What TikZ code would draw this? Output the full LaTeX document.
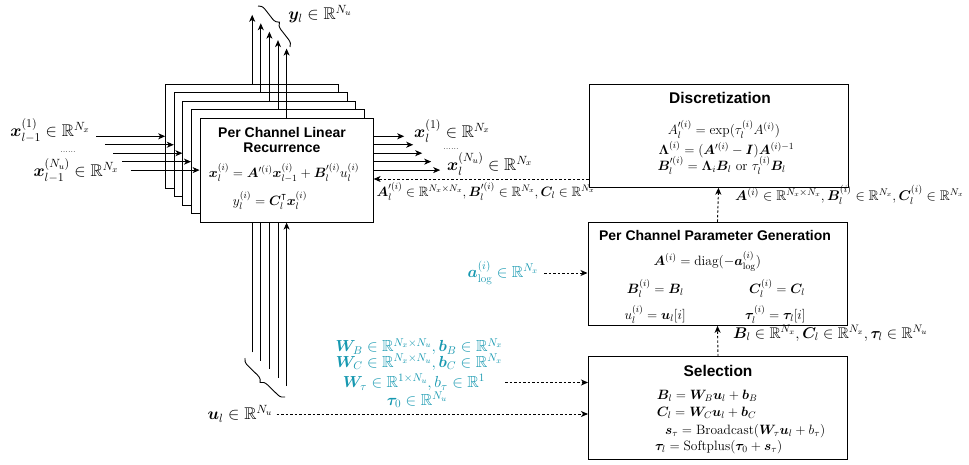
\RequirePackage{fix-cm}
\documentclass[tikz,border=0pt]{standalone}
\usepackage{fontspec}
\usepackage{amsmath,amssymb,bm}
\usetikzlibrary{arrows.meta,decorations.pathreplacing}
\newfontfamily\titlefont{Liberation Sans}
\definecolor{paramcol}{RGB}{22,152,176}

\begin{document}
\begin{tikzpicture}[x=1pt,y=-1pt,
    recbox/.style={draw, fill=white, line width=1pt, minimum width=173pt, minimum height=104pt, inner sep=0pt},
    stagebox/.style={draw, fill=white, line width=1pt, minimum width=259pt, minimum height=103pt, inner sep=0pt},
    boxtitle/.style={font=\titlefont\bfseries\fontsize{15.5}{17}\selectfont, inner sep=0pt},
    eqn/.style={font=\fontsize{13.5}{16}\selectfont, inner sep=0pt},
    iolbl/.style={font=\fontsize{17}{20}\selectfont, inner sep=0pt},
    arrlbl/.style={font=\fontsize{13.5}{15}\selectfont, inner sep=0pt},
    param/.style={text=paramcol, font=\fontsize{16}{18}\selectfont, inner sep=0pt},
    arr/.style={-{Stealth[length=7pt,width=6pt,inset=2pt]}, line width=0.9pt},
    dasharr/.style={arr, dash pattern=on 2.5pt off 2pt},
    bracepath/.style={decorate, decoration={brace, amplitude=7pt}, line width=0.9pt}]

\useasboundingbox (0,0) rectangle (969,465);

\foreach \k in {0,...,4}{
    \node[recbox] (rec\k) at ({252.2+8.6*\k},{136.3+8.45*\k}) {};
    \coordinate (xin\k) at ([xshift=-69pt]rec\k.west);
    \coordinate (xout\k) at ([xshift={65pt+0.4pt*\k}]rec\k.east);
    \coordinate (yout\k) at ([yshift=69pt]rec\k.north);
    \coordinate (uin\k) at ([yshift=-163.5pt]rec\k.south);
    \draw[arr] (xin\k) -- (rec\k.west);
    \draw[arr] (rec\k.east) -- (xout\k);
    \draw[arr] (rec\k.north) -- (yout\k);
    \draw[arr] (uin\k) -- (rec\k.south);
}

\node[boxtitle, font=\titlefont\bfseries\fontsize{14}{15.5}\selectfont, align=center] (rectitle) at (282,140) {Per Channel Linear\\Recurrence};
\node[eqn] (receq1) at (284,173) {$\bm{x}_l^{(i)} = \bm{A}^{\prime(i)}\bm{x}_{l-1}^{(i)} + \bm{B}_l^{\prime(i)}u_l^{(i)}$};
\node[eqn] (receq2) at (270,200) {$y_l^{(i)} = \bm{C}_l^{\intercal}\bm{x}_l^{(i)}$};

\node[iolbl] (xinlbl1) at (50,131) {$\bm{x}_{l-1}^{(1)} \in \mathbb{R}^{N_x}$};
\node[font=\small, inner sep=0pt] (xindots) at (68,152) {......};
\node[iolbl] (xinlbl2) at (76,171) {$\bm{x}_{l-1}^{(N_u)} \in \mathbb{R}^{N_x}$};
\node[iolbl, anchor=west] (xoutlbl1) at (414,131) {$\bm{x}_l^{(1)} \in \mathbb{R}^{N_x}$};
\node[font=\small, inner sep=0pt] (xoutdots) at (451,149) {......};
\node[iolbl, anchor=west] (xoutlbl2) at (447,164) {$\bm{x}_l^{(N_u)} \in \mathbb{R}^{N_x}$};
\node[iolbl] (ylbl) at (320,14) {$\bm{y}_l \in \mathbb{R}^{N_u}$};
\node[iolbl] (ulbl) at (240,414) {$\bm{u}_l \in \mathbb{R}^{N_u}$};

\draw[bracepath] (258,6) -- (290,47);
\draw[bracepath] (285,397) -- (245,358);

\node[stagebox] (disc) at (718.5,135.7) {};
\node[boxtitle] (disctitle) at (720,98.3) {Discretization};
\node[eqn, anchor=west] (disceq1) at (667.7,129) {$A_l^{\prime(i)} = \exp(\tau_l^{(i)}A^{(i)})$};
\node[eqn, anchor=west] (disceq2) at (658.3,150) {$\bm{\Lambda}^{(i)} = (\bm{A}^{\prime(i)} - \bm{I})\bm{A}^{(i)-1}$};
\node[eqn, anchor=west] (disceq3) at (657.3,165.5) {$\bm{B}_l^{\prime(i)} = \bm{\Lambda}_i\bm{B}_l \text{ or } \tau_l^{(i)}\bm{B}_l$};

\node[stagebox] (pgen) at (717.5,273.8) {};
\node[boxtitle, font=\titlefont\bfseries\fontsize{14}{15.5}\selectfont] (pgentitle) at (715,235) {Per Channel Parameter Generation};
\node[eqn, anchor=west] (pgeneq1) at (653.3,261) {$\bm{A}^{(i)} = \mathrm{diag}(-\bm{a}_{\log}^{(i)})$};
\node[eqn, anchor=west] (pgeneq2) at (626.7,288) {$\bm{B}_l^{(i)} = \bm{B}_l$};
\node[eqn, anchor=west] (pgeneq3) at (749,288) {$\bm{C}_l^{(i)} = \bm{C}_l$};
\node[eqn, anchor=west] (pgeneq4) at (624.3,314) {$u_l^{(i)} = \bm{u}_l[i]$};
\node[eqn, anchor=west] (pgeneq5) at (745,314) {$\bm{\tau}_l^{(i)} = \bm{\tau}_l[i]$};

\node[stagebox] (sel) at (718,408.4) {};
\node[boxtitle] (seltitle) at (718,370.5) {Selection};
\node[eqn, anchor=west] (seleq1) at (656.7,396) {$\bm{B}_l = \bm{W}_B\bm{u}_l + \bm{b}_B$};
\node[eqn, anchor=west] (seleq2) at (656.7,413) {$\bm{C}_l = \bm{W}_C\bm{u}_l + \bm{b}_C$};
\node[eqn, anchor=west] (seleq3) at (665,431) {$\bm{s}_\tau = \mathrm{Broadcast}(\bm{W}_\tau\bm{u}_l + b_\tau)$};
\node[eqn, anchor=west] (seleq4) at (655,447) {$\bm{\tau}_l = \mathrm{Softplus}(\bm{\tau}_0 + \bm{s}_\tau)$};

\node[param] (alog) at (503,273) {$\bm{a}_{\log}^{(i)} \in \mathbb{R}^{N_x}$};
\node[param] (wb) at (419,346.7) {$\bm{W}_B \in \mathbb{R}^{N_x\times N_u}, \bm{b}_B \in \mathbb{R}^{N_x}$};
\node[param] (wc) at (419,362) {$\bm{W}_C \in \mathbb{R}^{N_x\times N_u}, \bm{b}_C \in \mathbb{R}^{N_x}$};
\node[param] (wt) at (414,382.5) {$\bm{W}_\tau \in \mathbb{R}^{1\times N_u}, b_\tau \in \mathbb{R}^1$};
\node[param] (tau0) at (417,400) {$\bm{\tau}_0 \in \mathbb{R}^{N_u}$};
\coordinate (wtend) at (505,382.5);

\coordinate (discout) at (589,179);
\draw[dasharr] (disc.west |- discout) -- (rec4.east |- discout);
\node[arrlbl, anchor=west] (disclbl) at (376.5,191) {$\bm{A}_l^{\prime(i)} \in \mathbb{R}^{N_x\times N_x}, \bm{B}_l^{\prime(i)} \in \mathbb{R}^{N_x}, \bm{C}_l \in \mathbb{R}^{N_x}$};
\draw[dasharr] (pgen.north) -- (disc.south);
\node[arrlbl, anchor=west, font=\fontsize{14}{16}\selectfont] (pgenlbl) at (735,195) {$\bm{A}^{(i)} \in \mathbb{R}^{N_x\times N_x}, \bm{B}_l^{(i)} \in \mathbb{R}^{N_x}, \bm{C}_l^{(i)} \in \mathbb{R}^{N_x}$};
\draw[dasharr] (sel.north) -- (pgen.south);
\node[arrlbl, anchor=west, font=\fontsize{15.5}{17}\selectfont] (sellbl) at (733,333.3) {$\bm{B}_l \in \mathbb{R}^{N_x}, \bm{C}_l \in \mathbb{R}^{N_x}, \bm{\tau}_l \in \mathbb{R}^{N_u}$};
\draw[dasharr] ([xshift=6pt]alog.east) -- (pgen.west |- alog.east);
\draw[dasharr] (wtend) -- (sel.west |- wtend);
\draw[dasharr] ([xshift=4pt]ulbl.east) -- (sel.west |- ulbl.east);
\end{tikzpicture}
\end{document}
